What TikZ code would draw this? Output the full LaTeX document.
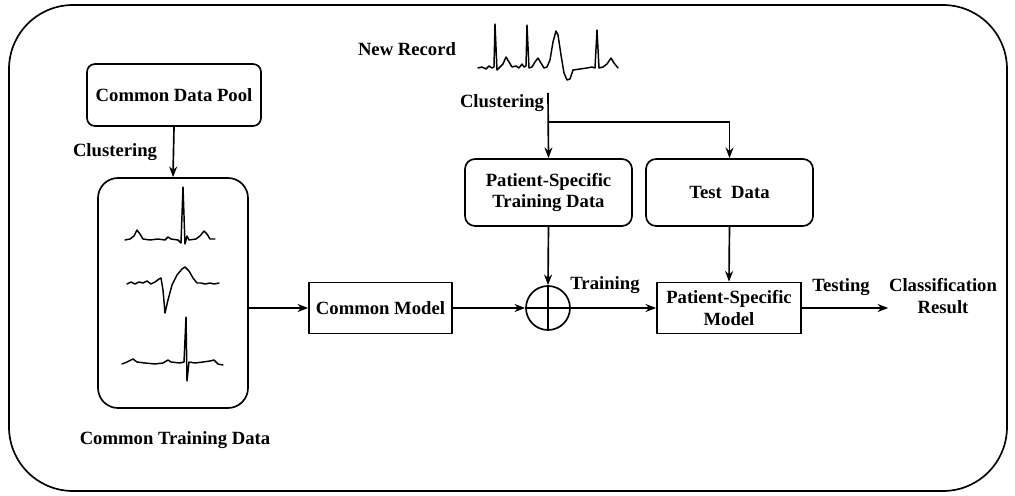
\documentclass[tikz,border=0pt]{standalone}
\usepackage{fontspec}
\setmainfont{Liberation Serif}
\usetikzlibrary{arrows.meta}
\begin{document}
\begin{tikzpicture}[x=0.75pt,y=-0.75pt,
  font=\fontsize{14}{16}\selectfont\bfseries,
  line width=1.25pt,
  arr/.style={-{Stealth[length=8pt,width=6pt]}},
  rbox/.style={draw,rounded corners=6pt,align=center,inner sep=0pt},
  sbox/.style={draw,align=center,inner sep=0pt},
  lbl/.style={inner sep=0pt,align=center},
  ecg/.style={line width=1.1pt,line join=round,line cap=round}]
\useasboundingbox (0,0) rectangle (1015,496);
\draw[rounded corners=48pt] (9,5) rectangle (1007,491);

% nodes
\node[rbox,minimum width=130.5pt,minimum height=46.5pt] (cdp) at (174,95) {Common Data Pool};
\node[rbox,rounded corners=15pt,minimum width=112.5pt,minimum height=172.5pt] (ctd) at (173,293) {};
\node[lbl] (ctdl) at (175,440) {Common Training Data};
\node[lbl] (cl1) at (115,152) {Clustering};
\node[sbox,minimum width=107.25pt,minimum height=38.25pt] (cm) at (380.5,308) {Common Model};
\node[draw,circle,minimum size=33pt,inner sep=0pt] (sum) at (548,308) {};
\node[rbox,rounded corners=7.5pt,minimum width=125.25pt,minimum height=50.25pt] (pstd) at (548.5,192.5) {Patient-Specific\\Training Data};
\node[rbox,rounded corners=7.5pt,minimum width=125.25pt,minimum height=50.25pt] (td) at (729.5,192.5) {Test\ \ Data};
\node[sbox,minimum width=108pt,minimum height=38.25pt] (psm) at (729,308) {Patient-Specific\\Model};
\node[lbl] (cls) at (943,296) {Classification\\Result};
\node[lbl] (trn) at (605,285) {Training};
\node[lbl] (tst) at (841,287) {Testing};
\node[lbl] (nr) at (407,49) {New Record};
\node[lbl] (cl2) at (502,103) {Clustering};
\coordinate (top) at (548,93);
\coordinate (br) at (548,122);

% sum cross
\draw (sum.north) -- (sum.south);
\draw (sum.west) -- (sum.east);

% connectors
\draw[arr] (cdp.south) -- (ctd.north);
\draw[arr] (ctd.east |- cm.west) -- (cm.west);
\draw[arr] (cm.east) -- (sum.west);
\draw[arr] (sum.east) -- (psm.west);
\draw[arr] (psm.east) -- (psm.east -| cls.west);
\draw[arr] (top) -- (pstd.north);
\draw[arr] (br) -| (td.north);
\draw[arr] (pstd.south) -- (sum.north);
\draw[arr] (td.south) -- (psm.north);

% ECG waveforms
\draw[ecg] (125,240) -- (130,239) -- (134,236) -- (137,230) -- (140,234) -- (143,239) -- (150,240) -- (158,239) -- (165,240) -- (168,237) -- (171,239) -- (178,240) -- (181,243) -- (183,187) -- (185,244) -- (187,236) -- (189,240) -- (196,239) -- (200,236) -- (204,231) -- (207,234) -- (210,239) -- (215,239);
\draw[ecg] (127,284) -- (131,282) -- (135,284) -- (139,282) -- (143,283) -- (147,281) -- (151,284) -- (155,282) -- (159,279) -- (161,278) -- (163,290) -- (165,313) -- (168,300) -- (172,285) -- (177,275) -- (182,269) -- (185,267) -- (189,271) -- (193,278) -- (197,283) -- (201,283) -- (205,284) -- (210,283) -- (214,284) -- (219,283);
\draw[ecg] (122,364) -- (127,362) -- (133,359) -- (137,362) -- (145,363) -- (155,364) -- (163,363) -- (168,360) -- (171,362) -- (180,363) -- (184,362) -- (186,317) -- (187,381) -- (189,362) -- (195,363) -- (203,362) -- (210,361) -- (214,360) -- (218,364) -- (223,365);
\draw[ecg] (478,68) -- (482,67) -- (486,69) -- (489,66) -- (492,68) -- (494,67) -- (495,24) -- (497,70) -- (500,67) -- (503,64) -- (506,57) -- (509,62) -- (512,67) -- (516,66) -- (519,68) -- (522,64) -- (524,67) -- (526,66) -- (527,25) -- (529,68) -- (532,67) -- (535,62) -- (538,58) -- (541,63) -- (544,68) -- (547,67) -- (550,60) -- (553,42) -- (556,31) -- (558,35) -- (561,55) -- (564,73) -- (567,80) -- (570,79) -- (573,70) -- (580,69) -- (587,68) -- (592,67) -- (595,68) -- (597,30) -- (599,68) -- (603,67) -- (607,64) -- (611,58) -- (614,63) -- (618,68);
\end{tikzpicture}
\end{document}
